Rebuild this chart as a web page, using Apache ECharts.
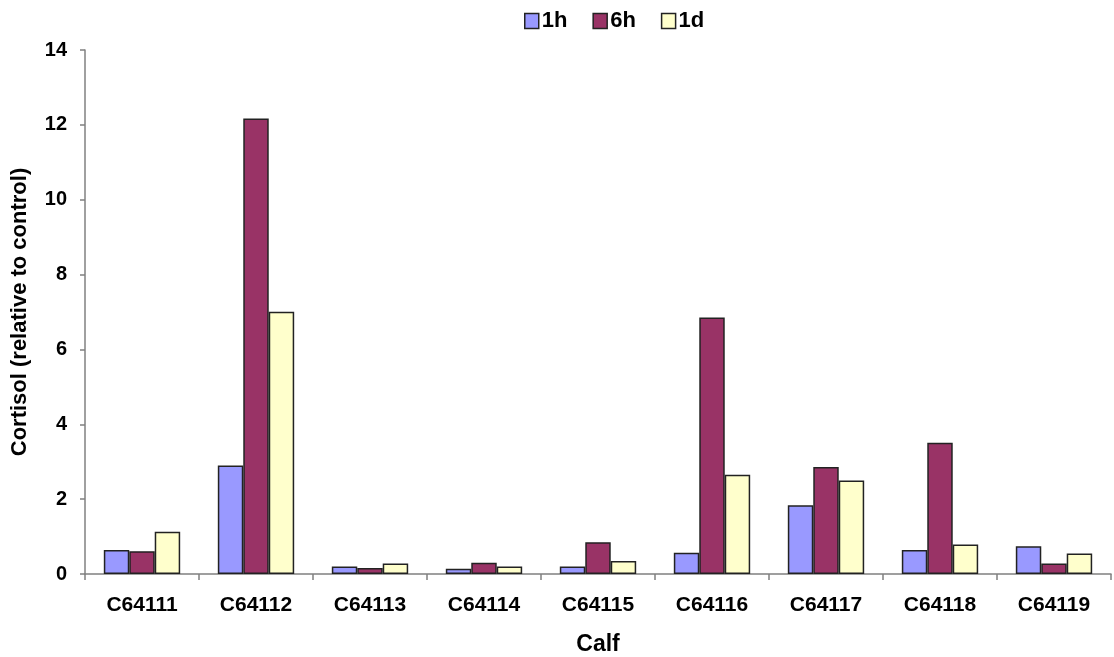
<!DOCTYPE html>
<html><head><meta charset="utf-8">
<script src="https://cdn.jsdelivr.net/npm/echarts@6/dist/echarts.min.js"></script>
<style>html,body{margin:0;padding:0;background:#fff}#c{width:1114px;height:657px}</style>
</head><body><div id="c"></div>
<script>
const categories = ['C64111','C64112','C64113','C64114','C64115','C64116','C64117','C64118','C64119'];
const seriesNames = ['1h','6h','1d'];
const values1h = [0.64, 2.90, 0.20, 0.14, 0.20, 0.57, 1.84, 0.64, 0.74];
const values6h = [0.61, 12.17, 0.16, 0.30, 0.85, 6.85, 2.86, 3.51, 0.28];
const values1d = [1.13, 7.01, 0.28, 0.20, 0.35, 2.65, 2.50, 0.79, 0.55];
const colors = ['#9999FF', '#993366', '#FFFFCC'];
const yTicks = [0, 2, 4, 6, 8, 10, 12, 14];

const font = 'Liberation Sans, Arial, sans-serif';
const chart = echarts.init(document.getElementById('c'));
const data = [values1h, values6h, values1d];
chart.setOption({
  animation: false,
  backgroundColor: '#fff',
  legend: {
    top: 5, left: 519,
    itemWidth: 14, itemHeight: 15, itemGap: 25,
    icon: 'rect',
    itemStyle: {borderColor: '#222', borderWidth: 1.5},
    textStyle: {fontFamily: font, fontWeight: 'bold', fontSize: 22, color: '#000', padding: [0,0,0,-2]},
    data: seriesNames
  },
  grid: {left: 85, right: 3, top: 50, bottom: 83, containLabel: false, outerBoundsMode: 'none'},
  xAxis: {
    type: 'category', data: categories,
    name: 'Calf', nameLocation: 'middle', nameGap: 59,
    nameTextStyle: {fontFamily: font, fontWeight: 'bold', fontSize: 23, color: '#000'},
    axisLine: {lineStyle: {color: '#808080', width: 1.5}},
    axisTick: {show: true, length: 6, lineStyle: {color: '#808080', width: 1.5}},
    axisLabel: {fontFamily: font, fontWeight: 'bold', fontSize: 21, color: '#000', margin: 21}
  },
  yAxis: {
    type: 'value', min: yTicks[0], max: yTicks[yTicks.length-1], interval: 2,
    name: 'Cortisol (relative to control)', nameLocation: 'middle', nameGap: 54,
    nameTextStyle: {fontFamily: font, fontWeight: 'bold', fontSize: 22, color: '#000'},
    axisLine: {show: true, lineStyle: {color: '#808080', width: 1.5}},
    axisTick: {show: true, length: 5, lineStyle: {color: '#808080', width: 1.5}},
    axisLabel: {fontFamily: font, fontWeight: 'bold', fontSize: 20, color: '#000', margin: 18},
    splitLine: {show: false}
  },
  series: seriesNames.map((n, i) => ({
    name: n, type: 'bar', data: data[i],
    barGap: '0%', barCategoryGap: '33%',
    itemStyle: {color: colors[i], borderColor: '#222', borderWidth: 1.5}
  }))
});
</script></body></html>
